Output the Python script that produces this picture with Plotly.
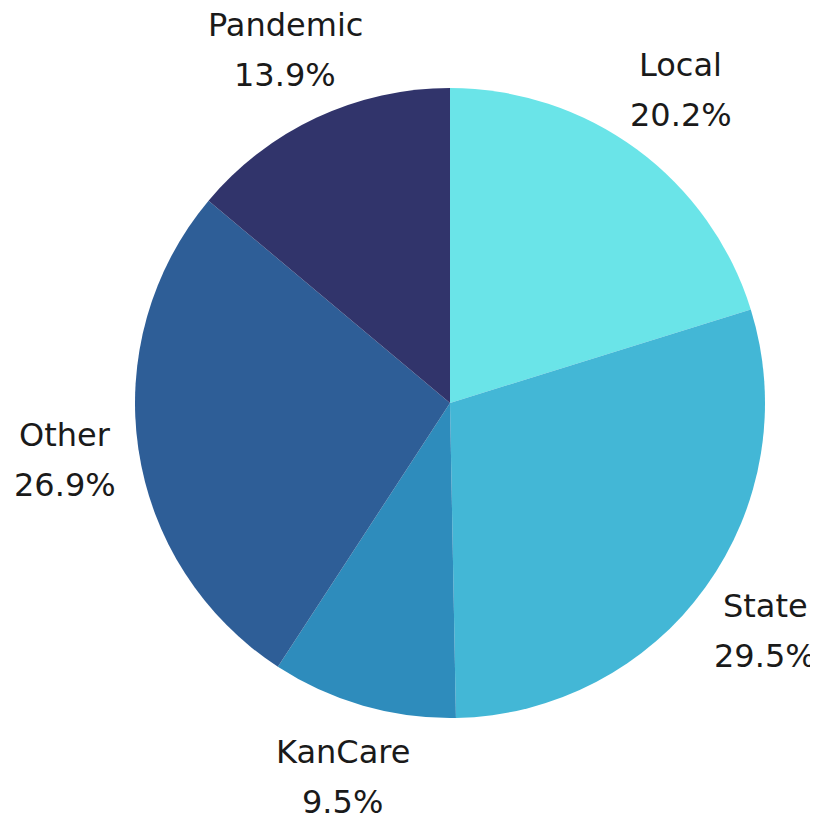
import math
import plotly.graph_objects as go

labels = ["Local", "State", "KanCare", "Other", "Pandemic"]
values = [20.2, 29.5, 9.5, 26.9, 13.9]
colors = ["#6AE4E8", "#43B7D6", "#2E8CBC", "#2E5E97", "#31346B"]

fig = go.Figure(go.Pie(
    labels=labels,
    values=values,
    sort=False,
    direction="clockwise",
    rotation=0,
    marker=dict(colors=colors, line=dict(width=0)),
    textinfo="none",
    showlegend=False,
    hoverinfo="label+percent",
))

# labels placed outside each slice along its mid-angle
total = sum(values)
label_font = dict(family="DejaVu Sans", size=32, color="#1a1a1a")
cum = 0.0
annotations = []
for lab, val in zip(labels, values):
    mid = (cum + val / 2) / total * 2 * math.pi
    cum += val
    r = 0.5 * 1.235
    x = 0.5 + r * math.sin(mid)
    y = 0.5 + r * math.cos(mid)
    for txt, shift in ((lab, 25), (f"{val:.1f}%", -25)):
        annotations.append(dict(
            x=x, y=y, xref="paper", yref="paper", text=txt,
            showarrow=False, xanchor="center", yanchor="middle",
            yshift=shift, font=label_font,
        ))

fig.update_layout(
    width=818, height=823,
    margin=dict(l=127, r=61, t=80, b=113),
    paper_bgcolor="white",
    plot_bgcolor="white",
    annotations=annotations,
)

fig.write_html("out.html")
